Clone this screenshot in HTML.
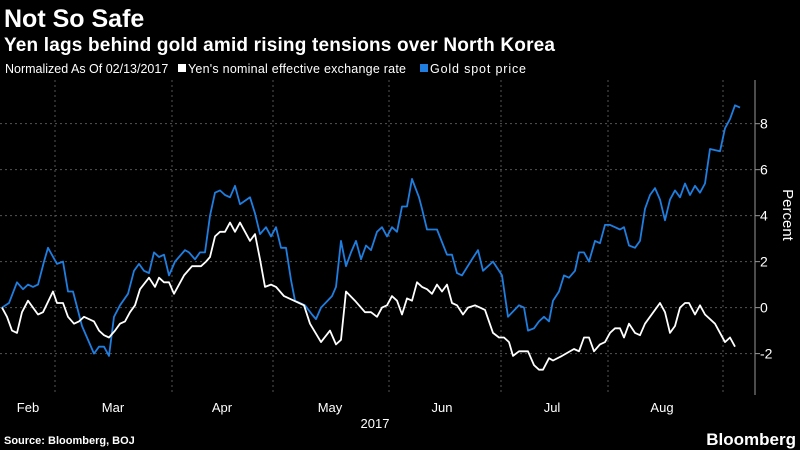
<!DOCTYPE html>
<html><head><meta charset="utf-8">
<style>
body{margin:0;background:#000;width:800px;height:450px;overflow:hidden;font-family:"Liberation Sans",sans-serif;color:#fff}
svg{position:absolute;left:0;top:0}
</style></head>
<body>
<svg id="chart" width="800" height="450">
  <text x="4" y="27" font-size="25" font-weight="bold" fill="#fff">Not So Safe</text>
  <text x="4" y="51" font-size="19" font-weight="bold" fill="#fff" textLength="551">Yen lags behind gold amid rising tensions over North Korea</text>
  <g font-size="12.5" fill="#fff">
    <text x="5" y="73">Normalized As Of 02/13/2017</text>
    <rect x="178" y="64" width="8" height="8" fill="#fff"/>
    <text x="188" y="73" textLength="218">Yen's nominal effective exchange rate</text>
    <rect x="420" y="64" width="8" height="8" fill="#1f7ee0"/>
    <text x="430" y="73" textLength="96">Gold spot price</text>
  </g>
  <g id="grid"></g>
  <g id="axis"></g>
  <g id="series"></g>
  <text x="375" y="428" font-size="13" fill="#fff" text-anchor="middle">2017</text>
  <text transform="translate(783,215) rotate(90)" font-size="15" fill="#fff" text-anchor="middle">Percent</text>
  <text x="4" y="444" font-size="11" font-weight="bold" fill="#fff">Source: Bloomberg, BOJ</text>
  <text x="796" y="445" font-size="17" font-weight="bold" fill="#fff" text-anchor="end">Bloomberg</text>
</svg>
<script>
const goldDays=[0,7,15,21,26,31,36,42,46,55,61,66,71,80,92,97,102,107,112,118,126,132,137,142,147,152,157,162,167,173,183,187,193,198,203,208,213,218,223,228,233,238,248,253,258,264,269,274,279,284,289,293,303,310,314,319,330,334,339,344,349,354,359,364,369,375,380,385,390,395,400,405,410,417,420,425,435,445,450,455,460,470,476,481,491,500,506,517,522,526,532,537,542,547,551,557,562,567,573,577,582,587,593,598,603,608,613,618,622,627,633,638,643,648,653,658,663,668,673,678,683,688,693,698,703,708,718,723,728,733,738];
const goldValues=[0,0.2,1.1,0.8,1.0,0.9,1.0,2.0,2.6,1.9,2.0,0.7,0.7,-0.8,-2.0,-1.7,-1.7,-2.1,-0.4,0.1,0.6,1.6,1.9,1.6,1.5,2.4,2.2,2.3,1.4,2.0,2.5,2.4,2.1,2.4,2.4,4.0,5.0,5.1,4.9,4.8,5.3,4.5,4.8,4.1,3.2,3.5,3.1,3.5,2.6,2.6,1.2,0.3,0.1,-0.3,-0.5,0,0.5,0.9,2.9,1.8,2.4,2.9,2.1,2.7,2.5,3.3,3.5,3.1,3.5,3.3,4.4,4.4,5.6,4.8,4.3,3.4,3.4,2.3,2.3,1.5,1.4,2.1,2.5,1.6,2.0,1.4,-0.4,0.1,0,-1.0,-0.9,-0.6,-0.4,-0.6,0.3,0.7,1.4,1.3,1.6,2.4,2.4,2.0,2.9,2.8,3.6,3.6,3.5,3.4,3.5,2.7,2.6,2.9,4.3,4.9,5.2,4.7,3.8,4.7,5.1,4.8,5.4,4.9,5.3,5.0,5.4,6.9,6.8,7.8,8.2,8.8,8.7];
const yenDays=[0,5,10,15,20,26,36,41,51,55,61,66,72,77,82,92,97,102,107,113,118,123,128,133,138,147,153,157,162,167,172,182,190,199,204,208,213,218,223,228,233,238,248,253,258,263,269,274,282,292,302,308,319,328,334,339,344,353,363,369,375,380,385,390,395,400,405,410,415,420,425,430,435,440,445,450,455,461,466,473,478,483,491,497,502,507,511,517,526,532,537,541,547,551,560,572,577,582,587,592,598,603,608,613,618,622,627,633,638,643,658,663,668,673,678,683,687,693,698,703,713,723,728,733];
const yenValues=[0,-0.4,-1.0,-1.1,-0.2,0.3,-0.3,-0.2,0.7,0.2,0.2,-0.4,-0.7,-0.6,-0.4,-0.6,-1.0,-1.2,-1.3,-1.0,-0.7,-0.6,-0.2,0.1,0.8,1.3,0.9,1.3,1.1,1.1,0.6,1.4,1.8,1.8,2.0,2.2,3.1,3.3,3.3,3.7,3.3,3.7,2.9,3.2,2.1,0.9,1.0,0.9,0.5,0.3,0.1,-0.7,-1.5,-1.0,-1.6,-1.4,0.7,0.3,-0.2,-0.2,-0.4,0,0.1,0.5,0.3,-0.3,0.4,0.3,1.1,0.9,0.8,0.6,1.0,0.7,1.0,0.2,0.1,-0.3,0,0.1,0.0,-0.1,-1.1,-1.3,-1.3,-1.5,-2.1,-1.9,-1.9,-2.5,-2.7,-2.7,-2.2,-2.3,-2.1,-1.8,-1.9,-1.3,-1.3,-1.9,-1.6,-1.5,-1.1,-0.9,-0.9,-1.3,-0.7,-1.1,-1.2,-0.7,0.2,-0.2,-1.1,-0.8,0,0.2,0.2,-0.3,0.1,-0.3,-0.7,-1.5,-1.3,-1.7];
const yTicks=[-2,0,2,4,6,8];
const monthLabels=["Feb","Mar","Apr","May","Jun","Jul","Aug"];
const monthLabelDays=[26,111,220,328,440,550,660];
const monthGridDays=[53,170,271,387,499,606,721];

const NS="http://www.w3.org/2000/svg";
const X0=2,X1=740,D0=0,D1=738,Y_TOP=80,Y_BOT=395,V_TOP=9.9,V_BOT=-3.8;
function xScale(d){return X0+(d-D0)/(D1-D0)*(X1-X0);}
function yScale(v){return Y_BOT-(v-V_BOT)/(V_TOP-V_BOT)*(Y_BOT-Y_TOP);}
function mk(tag,attrs,parent){const e=document.createElementNS(NS,tag);for(const k in attrs)e.setAttribute(k,attrs[k]);parent.appendChild(e);return e;}
const grid=document.getElementById('grid'),axis=document.getElementById('axis'),series=document.getElementById('series');
yTicks.forEach(v=>{
  const y=yScale(v);
  const l=mk('line',{x1:0,x2:755,y1:y,y2:y,stroke:'#555','stroke-dasharray':'2,3','stroke-width':1},grid);
  
  
  const t=mk('line',{x1:755,x2:760,y1:y,y2:y,stroke:'#999'},axis);
  
  
  const tx=mk('text',{x:760,y:y+5,'font-size':14,fill:'#fff'},axis);
  tx.textContent=(v<0?'-':'')+Math.abs(v);
  
  
});
const al=mk('line',{x1:755,x2:755,y1:Y_TOP,y2:Y_BOT,stroke:'#999'},axis);


monthGridDays.forEach(d=>{
  const x=xScale(d);
  const l=mk('line',{x1:x,x2:x,y1:Y_TOP,y2:Y_BOT,stroke:'#555','stroke-dasharray':'2,3'},grid);
  
  
});
monthLabels.forEach((m,i)=>{
  const t=mk('text',{x:xScale(monthLabelDays[i]),y:412,'font-size':13,fill:'#fff','text-anchor':'middle'},axis);
  t.textContent=m;
  
  
});
function line(days,vals,color,name){
  const d=days.map((dd,i)=>(i?'L':'M')+xScale(dd).toFixed(1)+','+yScale(vals[i]).toFixed(1)).join('');
  const p=mk('path',{d:d,fill:'none',stroke:color,'stroke-width':1.8,'stroke-linejoin':'round'},series);
  
  
}
line(goldDays,goldValues,'#1f7ee0','gold-line');
line(yenDays,yenValues,'#ffffff','yen-line');
</script>
</body></html>
